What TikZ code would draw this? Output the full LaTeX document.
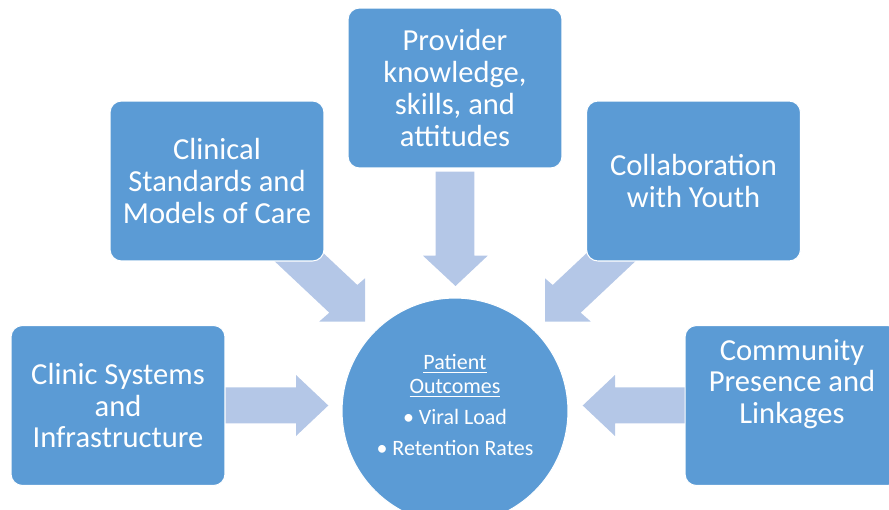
\documentclass[tikz,border=0pt]{standalone}
\usepackage{fontspec}
\setmainfont{Carlito}
\definecolor{bleu}{HTML}{5B9BD5}
\definecolor{bleuclair}{HTML}{B4C7E7}

\begin{document}
\begin{tikzpicture}[x=0.02cm, y=-0.02cm]
\tikzset{boite/.style={draw=white, line width=0.6pt, fill=bleu, rounded corners=6.5pt, minimum width=4.28cm, minimum height=3.2cm, text=white, align=center, font=\fontsize{17.4}{18.1}\selectfont}}
\tikzset{fleche/.style={fill=bleuclair}}
\useasboundingbox (0,0) rectangle (889,510);
\clip (0,0) rectangle (889,510);
\fill[fleche] (435.7,171.7) -- (474.3,171.7) -- (474.3,255.7) -- (487.7,255.7) -- (455.5,286) -- (423,255.7) -- (435.7,255.7) -- cycle;
\fill[fleche] (252,240) -- (309.4,240) -- (357.3,285) -- (365,278.3) -- (365,321.5) -- (319.3,321.5) -- (329.3,312.7) -- cycle;
\fill[fleche] (658,240) -- (600.6,240) -- (552.7,285) -- (545,278.3) -- (545,321.5) -- (590.7,321.5) -- (580.7,312.7) -- cycle;
\fill[fleche] (220,387.3) -- (296,387.3) -- (296,375) -- (328.3,405.5) -- (296,436) -- (296,423.3) -- (220,423.3) -- cycle;
\fill[fleche] (690,387.3) -- (615,387.3) -- (615,375) -- (582.7,405.5) -- (615,436) -- (615,423.3) -- (690,423.3) -- cycle;
\node[boite] (B1) at (455,88) {Provider\\knowledge,\\skills, and\\attitudes};
\node[boite] (B2) at (217,181) {Clinical\\Standards and\\Models of Care};
\node[boite] (B3) at (693.5,181) {Collaboration\\with Youth};
\node[boite] (B4) at (118,405.5) {Clinic Systems\\and\\Infrastructure};
\node[boite] (B5) at (792,405.5) {};
\node[text=white, align=center, font=\fontsize{17.4}{18.1}\selectfont] (T5) at (792,384) {Community\\Presence and\\Linkages};
\node[circle, draw=white, line width=0.6pt, fill=bleu, minimum size=4.52cm] (C) at (455,411) {};
\node[text=white, align=center, font=\fontsize{12.5}{13.6}\selectfont] (T) at (455,405) {\underline{Patient}\\\underline{Outcomes}\\[4pt]\textbullet\ Viral Load\\[4pt]\textbullet\ Retention Rates};
\end{tikzpicture}
\end{document}
